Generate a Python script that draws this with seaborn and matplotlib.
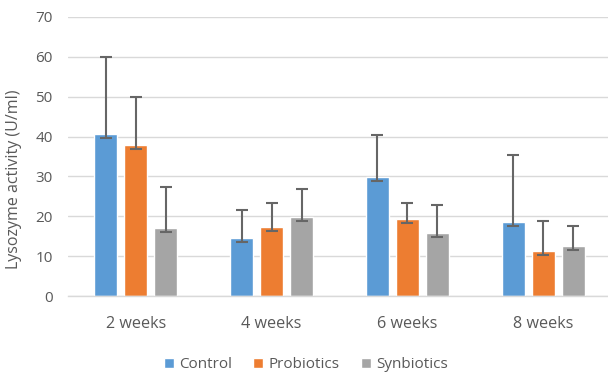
import pandas as pd
import numpy as np
import matplotlib
matplotlib.use('Agg')
import matplotlib.pyplot as plt
from matplotlib.patches import Patch
import seaborn as sns

# data
weeks = ['2 weeks', '4 weeks', '6 weeks', '8 weeks']
groups = ['Control', 'Probiotics', 'Synbiotics']
control = [40.6, 14.5, 29.9, 18.6]
probiotics = [37.9, 17.2, 19.2, 11.2]
synbiotics = [17.1, 19.9, 15.9, 12.5]
control_err = [19.4, 7.1, 10.6, 16.8]
probiotics_err = [12.1, 6.2, 4.2, 7.7]
synbiotics_err = [10.2, 6.9, 6.9, 5.1]

colors = ['#5B9BD5', '#ED7D31', '#A5A5A5']
grey = '#595959'

# long table for seaborn
df = pd.DataFrame({
    'week': weeks * 3,
    'group': [g for g in groups for _ in weeks],
    'value': control + probiotics + synbiotics,
    'err': control_err + probiotics_err + synbiotics_err,
})

sns.set_style('white')
plt.rcParams['font.family'] = ['Open Sans', 'DejaVu Sans']

fig = plt.figure(figsize=(6.08, 3.74), dpi=100)
ax = fig.add_axes([68/608, 78/374, 543/608, 279/374])

sns.barplot(data=df, x='week', y='value', hue='group', order=weeks,
            hue_order=groups, palette=colors, width=0.663, gap=0.233,
            saturation=1, errorbar=None, legend=False, ax=ax)

# error bars, mostly upward like the original
for cont, g in zip(ax.containers, groups):
    sub = df[df['group'] == g].set_index('week').loc[weeks]
    for bar, (_, row) in zip(cont, sub.iterrows()):
        x = bar.get_x() + bar.get_width() / 2
        ax.errorbar(x, row['value'], yerr=[[1.0], [row['err']]], fmt='none',
                    ecolor='#666666', elinewidth=1.5, capsize=4.5, capthick=1.5,
                    zorder=3)

ax.set_ylim(0, 70)
ax.set_yticks(range(0, 71, 10))
ax.set_xlim(-0.5, 3.5)
ax.yaxis.grid(True, color='#D9D9D9', linewidth=1)
ax.set_axisbelow(True)
for s in ['left', 'right', 'top']:
    ax.spines[s].set_visible(False)
ax.spines['bottom'].set_color('#D9D9D9')
ax.spines['bottom'].set_linewidth(1)
ax.tick_params(axis='y', length=0, pad=11, labelsize=11, labelcolor=grey)
ax.tick_params(axis='x', length=0, pad=14.5, labelsize=11.6, labelcolor=grey)
ax.set_xlabel('')
ax.set_ylabel('Lysozyme activity (U/ml)', fontsize=11.5, color=grey)
ax.yaxis.set_label_coords(-0.085, 0.42)

handles = [Patch(facecolor=c, label=g) for c, g in zip(colors, groups)]
leg = fig.legend(handles=handles, loc='center', bbox_to_anchor=(0.503, 0.025),
                 ncol=3, frameon=False, fontsize=11, handlelength=0.65,
                 handleheight=0.65, handletextpad=0.35, columnspacing=1.4)
for t in leg.get_texts():
    t.set_color(grey)

fig.savefig('out.png', dpi=100)
